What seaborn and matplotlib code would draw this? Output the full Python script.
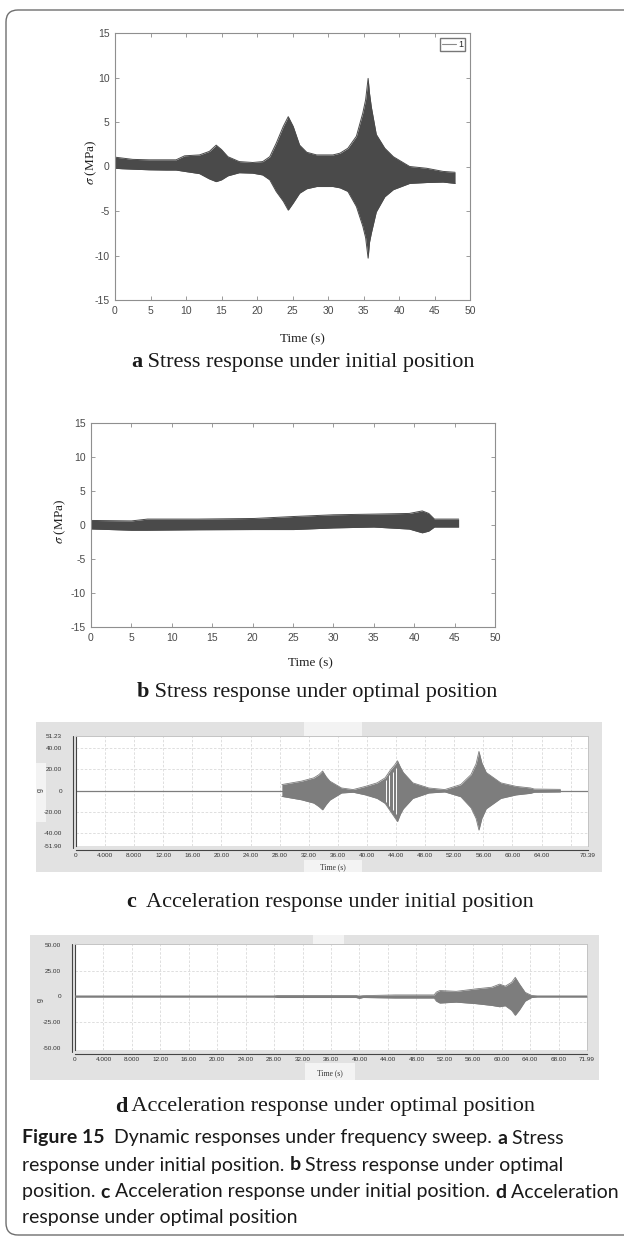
import numpy as np
import pandas as pd
import seaborn as sns
import matplotlib.pyplot as plt
from matplotlib.patches import Rectangle, FancyBboxPatch
from matplotlib.lines import Line2D

# ---------------- data ----------------
# (a) stress, initial position: envelope of the sweep signal
a_time = [0, 1, 2.5, 4.8, 7.2, 8.6, 9.8, 11.9, 13.3, 14.25, 15.0, 15.9, 17.5, 19.4, 20.8,
          21.8, 22.7, 23.7, 24.4, 25.1, 26.0, 27.0, 28.4, 30.7, 31.7, 32.8, 34.0, 34.9,
          35.3, 35.65, 35.85, 36.1, 36.8, 38.0, 39.2, 41.5, 43.9, 46.2, 47.9]
a_upper = [1.05, 0.95, 0.8, 0.75, 0.75, 0.75, 1.2, 1.3, 1.7, 2.4, 1.9, 1.1, 0.55, 0.45, 0.55,
           1.1, 2.6, 4.5, 5.6, 4.5, 2.4, 1.6, 1.3, 1.3, 1.5, 2.05, 3.4, 6.0,
           7.5, 9.9, 8.2, 6.7, 3.6, 2.05, 1.1, 0.0, -0.2, -0.55, -0.65]
a_lower = [-0.2, -0.25, -0.3, -0.37, -0.4, -0.4, -0.55, -0.8, -1.4, -1.7, -1.5, -1.05, -0.7, -0.75, -0.95,
           -1.5, -2.8, -3.9, -4.9, -4.1, -3.0, -2.5, -2.25, -2.25, -2.4, -2.8, -4.5, -6.7,
           -8.0, -10.3, -8.5, -7.5, -5.1, -3.4, -2.6, -1.9, -1.8, -1.75, -1.9]

# (b) stress, optimal position
b_time = [0, 5, 7, 13.3, 20.2, 25.1, 30, 35, 39.4, 41.0, 41.8, 42.5, 45.5]
b_upper = [0.67, 0.6, 0.87, 0.87, 0.96, 1.25, 1.5, 1.6, 1.7, 2.07, 1.7, 0.87, 0.87]
b_lower = [-0.58, -0.77, -0.77, -0.7, -0.67, -0.67, -0.43, -0.3, -0.6, -1.15, -0.9, -0.3, -0.3]

# (c) acceleration, initial position
c_time = [28.3, 31, 32.7, 33.4, 33.9, 34.4, 34.9, 36.5, 38.1, 39.8, 41.4, 42.5, 43.3, 43.8,
          44.2, 44.6, 45, 46.3, 48.5, 50.7, 52.9, 54.3, 55.0, 55.4, 55.8, 56.4, 58.4, 60.5,
          62.5, 63.0, 66.6]
c_upper = [5.7, 8.9, 12, 15, 18.4, 13, 8.9, 2.5, 1.0, 4, 7.3, 12, 20, 24,
           28, 22, 17, 7.3, 2.5, 1.0, 5.7, 15, 25, 36.8, 26, 17, 7.3, 4,
           2.5, 1.5, 1.2]
c_lower = [-5.4, -8.6, -11.7, -15, -18, -13, -8.9, -2.2, -1.5, -4, -7.3, -12, -20, -25,
           -29, -22, -17, -7.3, -2.2, -1.2, -5.7, -16, -26, -37, -26, -17, -7.3, -4,
           -2.5, -1.5, -1.2]
c_gaps = [42.6, 43.1, 43.6, 44.0]
c_end = 70.39

# (d) acceleration, optimal position
d_time = [0, 28.0, 28.5, 39.5, 40.0, 40.5, 45, 50.5, 50.8, 51.3, 53.6, 56.4, 58.6, 59.7,
          60.5, 61.4, 61.9, 62.5, 63.3, 64.2, 65, 71.99]
d_upper = [0.5, 0.5, 1.0, 1.0, 0.3, 0.8, 1.5, 1.5, 4.2, 5.8, 5.0, 7.4, 9.0, 12,
           10, 13.8, 18.6, 12, 4, 1.0, 0.5, 0.5]
d_lower = [-0.5, -0.5, -1.0, -1.0, -1.8, -1.0, -1.5, -1.5, -4.5, -6.4, -5.5, -7.0, -8.7, -10,
           -9, -13.5, -18.3, -13, -4.5, -1.0, -0.5, -0.5]
d_end = 71.99

stress_xticks = [0, 5, 10, 15, 20, 25, 30, 35, 40, 45, 50]
stress_yticks = [-15, -10, -5, 0, 5, 10, 15]

c_xticks = [0, 4, 8, 12, 16, 20, 24, 28, 32, 36, 40, 44, 48, 52, 56, 60, 64, 68, 70.39]
c_xlabels = ["0", "4.000", "8.000", "12.00", "16.00", "20.00", "24.00", "28.00", "32.00",
             "36.00", "40.00", "44.00", "48.00", "52.00", "56.00", "60.00", "64.00", "", "70.39"]
c_yticks = [-51.9, -40, -20, 0, 20, 40, 51.23]
c_ylabels = ["-51.90", "-40.00", "-20.00", "0", "20.00", "40.00", "51.23"]

d_xticks = [0, 4, 8, 12, 16, 20, 24, 28, 32, 36, 40, 44, 48, 52, 56, 60, 64, 68, 71.99]
d_xlabels = ["0", "4.000", "8.000", "12.00", "16.00", "20.00", "24.00", "28.00", "32.00",
             "36.00", "40.00", "44.00", "48.00", "52.00", "56.00", "60.00", "64.00", "68.00", "71.99"]
d_yticks = [-50, -25, 0, 25, 50]
d_ylabels = ["-50.00", "-25.00", "0", "25.00", "50.00"]

# ---------------- style ----------------
sns.set_theme(style="white")
plt.rcParams['font.family'] = ['Liberation Sans', 'DejaVu Sans']
plt.rcParams['mathtext.fontset'] = 'stix'
plt.rcParams['axes.unicode_minus'] = False

DARK = '#4a4a4a'
SIG = '#7d7d7d'
PANEL_GREY = '#e2e2e2'
SERIF = ['Liberation Serif', 'DejaVu Serif']
CAPFONT = ['Lato', 'DejaVu Sans']

W, H = 624, 1238
fig = plt.figure(figsize=(W / 100, H / 100), dpi=100)
fig.patch.set_facecolor('white')


def add_ax(l, t, r, b):
    return fig.add_axes([l / W, 1 - b / H, (r - l) / W, (b - t) / H])


def frect(l, t, r, b, color, z=-2):
    fig.add_artist(Rectangle((l / W, 1 - b / H), (r - l) / W, (b - t) / H,
                             transform=fig.transFigure, facecolor=color,
                             edgecolor='none', zorder=z))


def fline(x0, y0, x1, y1, color, lw=1.0, z=5):
    fig.add_artist(Line2D([x0 / W, x1 / W], [1 - y0 / H, 1 - y1 / H],
                          transform=fig.transFigure, color=color, lw=lw, zorder=z))


def ftext(x, y, s, **kw):
    return fig.text(x / W, 1 - y / H, s, **kw)


def chain(x, y, parts, size, family):
    """Write a run of text pieces, bold or regular, one after the other."""
    renderer = fig.canvas.get_renderer()
    for s, bold in parts:
        t = ftext(x, y, s, fontsize=size, family=family,
                  fontweight='bold' if bold else 'normal',
                  ha='left', va='center', color='#1a1a1a')
        x += t.get_window_extent(renderer).width


# outer rounded frame (its right side runs past the page edge)
fig.add_artist(FancyBboxPatch((0.06, 0.03), 8.0, 12.25,
                              boxstyle="round,pad=0,rounding_size=0.12",
                              transform=fig.dpi_scale_trans, fill=False,
                              edgecolor='#6f6f6f', lw=1.0, zorder=10))


# ---------------- stress panels ----------------
def stress_panel(box, t, up, lo):
    ax = add_ax(*box)
    df = pd.DataFrame({'t': t, 'up': up, 'lo': lo})
    ax.fill_between(df['t'], df['lo'], df['up'], color=DARK, lw=0)
    sns.lineplot(data=df, x='t', y='up', ax=ax, color=DARK, lw=0.7, legend=False)
    sns.lineplot(data=df, x='t', y='lo', ax=ax, color=DARK, lw=0.7, legend=False)
    ax.set_xlim(0, 50)
    ax.set_ylim(-15, 15)
    ax.set_xticks(stress_xticks)
    ax.set_yticks(stress_yticks)
    ax.tick_params(direction='in', length=3, width=0.6, color='#8a8a8a',
                   labelcolor='#4a4a4a', labelsize=7.5, top=True, right=True,
                   bottom=True, left=True, pad=4)
    for s in ax.spines.values():
        s.set_visible(True)
        s.set_color('#8f8f8f')
        s.set_linewidth(0.8)
    ax.set_xlabel('')
    ax.set_ylabel('')
    return ax


ax_a = stress_panel((115, 33, 470, 300), a_time, a_upper, a_lower)
ax_a.legend(handles=[Line2D([], [], color='#8a8a8a', lw=0.8)], labels=['1'],
            loc='upper right', fontsize=6.5, frameon=True, fancybox=False,
            edgecolor='#555555', handlelength=1.5, handletextpad=0.3,
            borderpad=0.25, borderaxespad=0.5)
ftext(91, 162, r'$\sigma$ (MPa)', rotation=90, ha='center', va='center',
      fontsize=9.5, family=SERIF, color='#222222')
ftext(302, 339, 'Time (s)', ha='center', va='center', fontsize=9.5,
      family=SERIF, color='#222222')

ax_b = stress_panel((91, 423, 495, 627), b_time, b_upper, b_lower)
ftext(60, 521, r'$\sigma$ (MPa)', rotation=90, ha='center', va='center',
      fontsize=9.5, family=SERIF, color='#222222')
ftext(310, 663, 'Time (s)', ha='center', va='center', fontsize=9.5,
      family=SERIF, color='#222222')


# ---------------- acceleration panels ----------------
def accel_panel(box, plot, t, up, lo, t_end, xticks, xlabels, yticks, ylabels,
                ylim, grid_y, tabs):
    gl, gt, gr, gb = box
    frect(gl, gt, gr, gb, PANEL_GREY)
    for tab in tabs:
        frect(*tab, '#f3f3f3', z=-1)
    pl, pt, pr, pb = plot
    ax = add_ax(pl, pt, pr, pb)
    ax.set_facecolor('white')
    for gx in xticks[1:-1]:
        ax.axvline(gx, color='#d9d9d9', lw=0.6, ls=(0, (3, 2)), zorder=0)
    for gy in grid_y:
        ax.axhline(gy, color='#d9d9d9', lw=0.6, ls=(0, (3, 2)), zorder=0)
    ax.plot([0, t_end], [0, 0], color=SIG, lw=0.9, zorder=2)
    df = pd.DataFrame({'t': t, 'up': up, 'lo': lo})
    ax.fill_between(df['t'], df['lo'], df['up'], color=SIG, lw=0, zorder=3)
    sns.lineplot(data=df, x='t', y='up', ax=ax, color=SIG, lw=0.6, legend=False, zorder=3)
    sns.lineplot(data=df, x='t', y='lo', ax=ax, color=SIG, lw=0.6, legend=False, zorder=3)
    ax.set_xlim(0, t_end)
    ax.set_ylim(*ylim)
    ax.set_xticks(xticks)
    ax.set_xticklabels(xlabels)
    ax.set_yticks(yticks)
    ax.set_yticklabels(ylabels)
    ax.tick_params(axis='x', direction='in', length=3, width=0.6, color='#333333',
                   labelsize=4.6, labelcolor='#333333', pad=2)
    ax.tick_params(axis='y', length=0, labelsize=4.6, labelcolor='#333333', pad=10)
    ax.spines['bottom'].set_position(('outward', 3))
    ax.spines['bottom'].set_color('#444444')
    ax.spines['bottom'].set_linewidth(0.8)
    ax.spines['left'].set_color('#444444')
    ax.spines['left'].set_linewidth(0.8)
    for s in ('top', 'right'):
        ax.spines[s].set_color('#c4c4c4')
        ax.spines[s].set_linewidth(0.7)
    # second rule of the double y axis line
    fline(pl - 3, pt, pl - 3, pb + 2, '#444444', lw=0.8)
    ax.set_xlabel('')
    ax.set_ylabel('')
    return ax


ax_c = accel_panel((36, 722, 602, 872), (76, 736, 588, 846), c_time, c_upper, c_lower,
                   c_end, c_xticks, c_xlabels, c_yticks, c_ylabels, (-51.9, 51.23),
                   [-40, -20, 20, 40],
                   [(304, 722, 362, 736), (304, 860, 362, 872), (36, 763, 46, 822)])
gap_hi = np.interp(c_gaps, c_time, c_upper) * 0.8
gap_lo = np.interp(c_gaps, c_time, c_lower) * 0.8
ax_c.vlines(c_gaps, gap_lo, gap_hi, color='white', lw=0.7, zorder=4)
ftext(40, 790, 'g', rotation=90, ha='center', va='center', fontsize=5, color='#333333')
ftext(333, 867, 'Time (s)', ha='center', va='center', fontsize=5.5, family=SERIF,
      color='#333333')

ax_d = accel_panel((30, 935, 599, 1080), (75, 944, 587, 1050), d_time, d_upper, d_lower,
                   d_end, d_xticks, d_xlabels, d_yticks, d_ylabels, (-52, 51),
                   [-25, 25],
                   [(313, 935, 344, 944), (305, 1063, 355, 1080)])
ftext(40, 1000, 'g', rotation=90, ha='center', va='center', fontsize=5, color='#333333')
ftext(330, 1073, 'Time (s)', ha='center', va='center', fontsize=5.5, family=SERIF,
      color='#333333')

# ---------------- captions ----------------
chain(131, 362, [('a', True), (' Stress response under initial position', False)], 16, SERIF)
chain(137, 692, [('b', True), (' Stress response under optimal position', False)], 16, SERIF)
chain(126, 902, [('c', True), ('  Acceleration response under initial position', False)], 16, SERIF)
chain(115, 1107, [('d', True), (' Acceleration response under optimal position', False)], 16, SERIF)

chain(22, 1138, [('Figure 15', True), ('  Dynamic responses under frequency sweep. ', False),
                 ('a', True), (' Stress', False)], 14, CAPFONT)
chain(22, 1165, [('response under initial position. ', False), ('b', True),
                 (' Stress response under optimal', False)], 14, CAPFONT)
chain(22, 1192, [('position. ', False), ('c', True),
                 (' Acceleration response under initial position. ', False), ('d', True),
                 (' Acceleration', False)], 14, CAPFONT)
chain(22, 1218, [('response under optimal position', False)], 14, CAPFONT)

fig.savefig('out.png', dpi=100, facecolor='white')
